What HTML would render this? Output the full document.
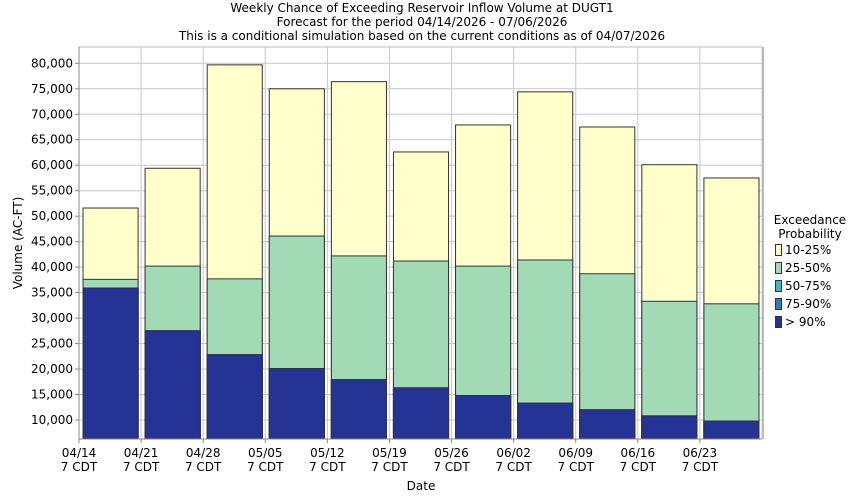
<!DOCTYPE html>
<html><head><meta charset="utf-8"><style>
html,body{margin:0;padding:0;background:#fff;}
svg{display:block;font-family:"DejaVu Sans","Liberation Sans",sans-serif;}
</style></head><body>
<svg id="chart" width="850" height="500">
<g font-size="12" text-anchor="middle" fill="#000">
<text x="422" y="12">Weekly Chance of Exceeding Reservoir Inflow Volume at DUGT1</text>
<text x="422" y="26">Forecast for the period 04/14/2026 - 07/06/2026</text>
<text x="422" y="40">This is a conditional simulation based on the current conditions as of 04/07/2026</text>
</g>
<g id="grid"></g>
<g id="bars"></g>
<g id="axes"></g>
<text x="421" y="490" font-size="12" text-anchor="middle">Date</text>
<text transform="translate(22,243) rotate(-90)" font-size="12" text-anchor="middle">Volume (AC-FT)</text>
<g id="legend" font-size="12"></g>
</svg>
<script>
const categories=["04/14","04/21","04/28","05/05","05/12","05/19","05/26","06/02","06/09","06/16","06/23"];
const p90=[35900,27500,22800,20100,17900,16300,14800,13300,12000,10800,9800];
const p75=[35900,27500,22800,20100,17900,16300,14800,13300,12000,10800,9800];
const p50=[35900,27500,22800,20100,17900,16300,14800,13300,12000,10800,9800];
const p25=[37600,40200,37700,46100,42200,41200,40200,41400,38700,33300,32800];
const p10=[51600,59400,79700,75000,76400,62600,67900,74400,67500,60100,57500];
const yTicks=[10000,15000,20000,25000,30000,35000,40000,45000,50000,55000,60000,65000,70000,75000,80000];
const legendLabels=["10-25%","25-50%","50-75%","75-90%","> 90%"];
const NS="http://www.w3.org/2000/svg";
const L=79,R=762,T=47,B=439,YMIN=6270,YMAX=83200;
const nW=11;
function y(v){return B-(v-YMIN)/(YMAX-YMIN)*(B-T);}
function x(i){return L+i*(R-L)/nW;}
function mk(tag,at,parent){const e=document.createElementNS(NS,tag);for(const k in at)e.setAttribute(k,at[k]);parent.appendChild(e);return e;}
const grid=document.getElementById('grid'),bars=document.getElementById('bars'),axes=document.getElementById('axes'),leg=document.getElementById('legend');
mk('rect',{x:L,y:T,width:R-L,height:B-T,fill:'#fff',stroke:'#bbb'},grid);
yTicks.forEach(v=>{const l=mk('line',{x1:L,x2:R,y1:y(v),y2:y(v),stroke:'#c8c8c8'},grid);


const t=mk('text',{x:L-6,y:y(v)+4,'font-size':12,'text-anchor':'end'},axes);t.textContent=v.toLocaleString('en-US');


mk('line',{x1:L-4,x2:L,y1:y(v),y2:y(v),stroke:'#888'},axes);});
for(let i=0;i<=nW;i++){const l=mk('line',{x1:x(i),x2:x(i),y1:T,y2:B,stroke:'#c8c8c8'},grid);

}
const colors={p10:'#ffffcc',p25:'#a1dab4',p50:'#41b6c4',p75:'#2c7fb8',p90:'#253494'};
const series=[['p10',p10],['p25',p25],['p50',p50],['p75',p75],['p90',p90]];
categories.forEach((c,i)=>{const x0=x(i)+4,w=(R-L)/nW-7;
series.forEach(([k,arr])=>{const r=mk('rect',{x:x0,y:y(arr[i]),width:w,height:B-y(arr[i]),fill:colors[k],stroke:'#333','stroke-width':1},bars);

});
const t=mk('text',{x:x(i),y:457,'font-size':12,'text-anchor':'middle'},axes);t.textContent=c;


const t2=mk('text',{x:x(i),y:471,'font-size':12,'text-anchor':'middle'},axes);t2.textContent='7 CDT';


mk('line',{x1:x(i),x2:x(i),y1:B,y2:B+4,stroke:'#888'},axes);});
mk('line',{x1:L,x2:L,y1:T,y2:B,stroke:'#888'},axes);
mk('line',{x1:L,x2:R,y1:B,y2:B,stroke:'#888'},axes);
mk('line',{x1:R+1,x2:R+1,y1:T,y2:B,stroke:'#bbb','stroke-width':2},axes);
const lt1=mk('text',{x:810,y:224,'text-anchor':'middle'},leg);lt1.textContent='Exceedance';
const lt2=mk('text',{x:810,y:238,'text-anchor':'middle'},leg);lt2.textContent='Probability';
const lc=[colors.p10,colors.p25,colors.p50,colors.p75,colors.p90];
legendLabels.forEach((s,i)=>{const yy=244+i*18;
const r=mk('rect',{x:775.5,y:yy+0.5,width:6,height:11,fill:lc[i],stroke:'#333'},leg);


const t=mk('text',{x:785,y:yy+10},leg);t.textContent=s;

});
</script>
</body></html>
